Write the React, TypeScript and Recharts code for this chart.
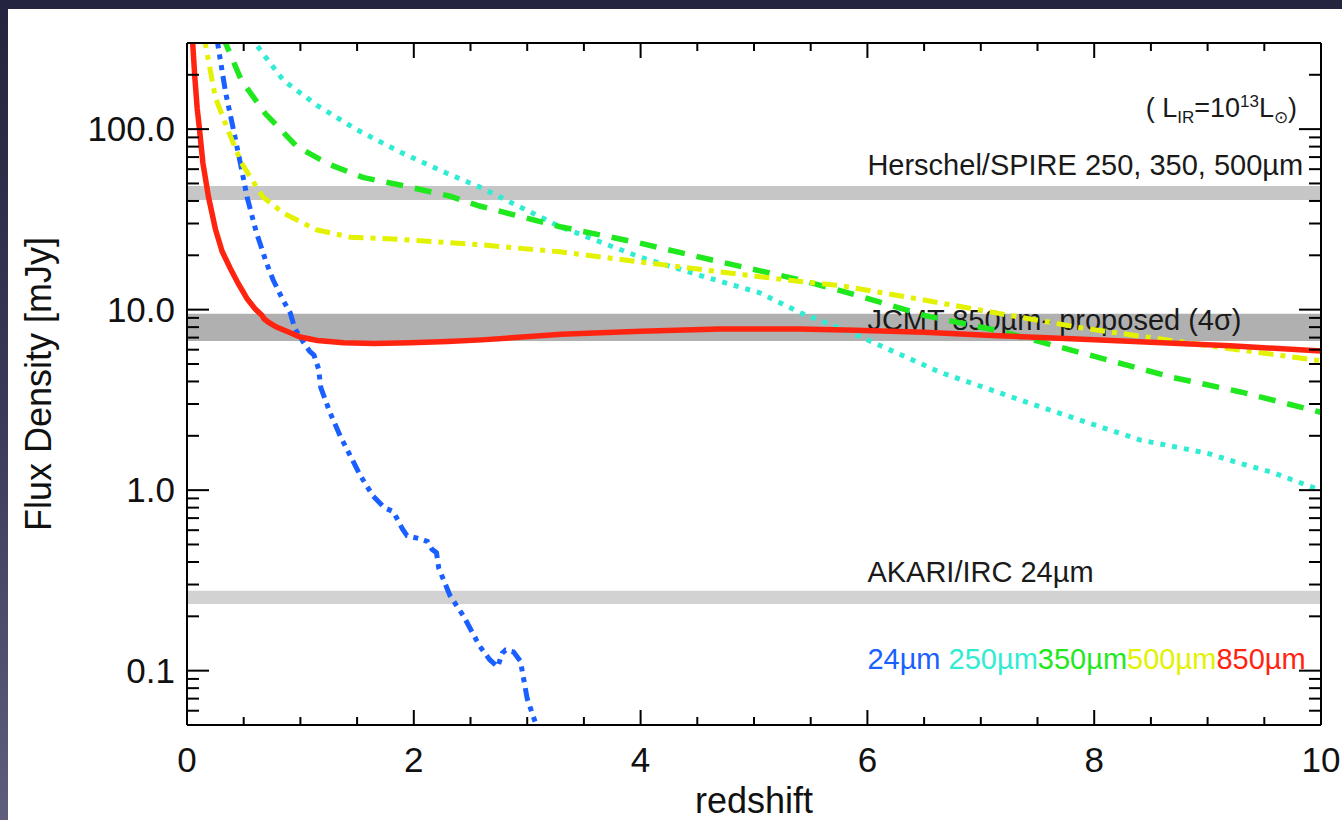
import React from "react";
import {
  ComposedChart,
  Line,
  ReferenceArea,
  ReferenceLine,
  XAxis,
  YAxis,
} from "recharts";

const FONT = '"Liberation Sans", Arial, Helvetica, sans-serif';

// redshift grid (major every 2, minor every 0.5)
const Z_TICKS = [0, 0.5, 1, 1.5, 2, 2.5, 3, 3.5, 4, 4.5, 5, 5.5, 6, 6.5, 7, 7.5, 8, 8.5, 9, 9.5, 10];
const Z_LABELED = [0, 2, 4, 6, 8, 10];

// log flux ticks, labels only on decades
const FLUX_TICKS = [
  0.06, 0.07, 0.08, 0.09, 0.1, 0.2, 0.3, 0.4, 0.5, 0.6, 0.7, 0.8, 0.9, 1, 2, 3, 4, 5, 6, 7, 8, 9,
  10, 20, 30, 40, 50, 60, 70, 80, 90, 100, 200,
];
const FLUX_DECADES = [0.1, 1, 10, 100];
const FLUX_DECADE_LABELS = ["0.1", "1.0", "10.0", "100.0"];

// detection limits (mJy)
const SPIRE_BAND = [40.5, 48.4];
const JCMT_BAND = [6.7, 9.5];
const AKARI_BAND = [0.234, 0.277];

// L_IR = 1e13 Lsun template, observed flux vs redshift
const Z_850 = [0.04, 0.05, 0.07, 0.09, 0.11, 0.14, 0.19, 0.25, 0.31, 0.38, 0.45, 0.53, 0.6, 0.66, 0.68, 0.72, 0.79, 0.9, 1.0, 1.15, 1.38, 1.65, 1.97, 2.3, 2.6, 3.3, 4.0, 4.7, 5.4, 5.9, 6.5, 7.1, 7.8, 8.5, 9.2, 10];
const F_850 = [420, 300, 190, 130, 100, 65, 42, 28, 21, 17, 14, 11.5, 10.1, 9.3, 8.9, 8.5, 8.0, 7.5, 7.05, 6.75, 6.55, 6.5, 6.55, 6.65, 6.8, 7.3, 7.6, 7.8, 7.8, 7.7, 7.5, 7.2, 6.9, 6.6, 6.3, 5.9];

const Z_500 = [0.15, 0.16, 0.25, 0.36, 0.48, 0.67, 0.85, 1.14, 1.44, 1.88, 2.26, 2.58, 3.29, 3.99, 4.7, 5.41, 5.76, 6.5, 7.17, 7.9, 8.5, 9.1, 10];
const F_500 = [340, 300, 150, 99, 65, 42, 34.3, 27.7, 25.2, 24.5, 23.6, 22.9, 20.9, 18.4, 16.2, 14.3, 13.6, 11.3, 9.5, 7.9, 7.0, 6.2, 5.2];

const Z_350 = [0.32, 0.34, 0.48, 0.69, 0.97, 1.25, 1.55, 1.88, 2.32, 2.58, 3.29, 3.99, 4.7, 5.41, 5.87, 6.5, 7.17, 7.87, 8.7, 9.29, 10];
const F_350 = [330, 300, 186, 122, 80, 64, 54, 49, 42.5, 37.5, 28.8, 23.4, 18.4, 14.6, 12.2, 9.3, 7.6, 5.8, 4.2, 3.5, 2.7];

const Z_250 = [0.58, 0.6, 0.85, 1.15, 1.5, 1.88, 2.29, 2.58, 3.29, 3.99, 4.52, 5.05, 5.41, 5.87, 6.64, 7.52, 8.4, 9.0, 9.3, 9.58, 9.9, 10];
const F_250 = [330, 300, 186, 135, 99, 74.6, 57, 47.8, 28.8, 19.6, 15.5, 12.4, 9.6, 7.4, 4.5, 2.9, 1.9, 1.6, 1.4, 1.25, 1.05, 1.0];

const Z_24 = [0.26, 0.27, 0.34, 0.41, 0.47, 0.53, 0.61, 0.7, 0.76, 0.84, 0.91, 0.95, 1.02, 1.08, 1.12, 1.16, 1.18, 1.26, 1.35, 1.44, 1.53, 1.64, 1.74, 1.82, 1.9, 1.94, 2.04, 2.12, 2.16, 2.2, 2.22, 2.32, 2.44, 2.58, 2.67, 2.74, 2.78, 2.81, 2.88, 2.94, 3.0, 3.07, 3.09];
const F_24 = [330, 300, 160, 99, 65, 42, 27, 18.2, 14.6, 11.5, 9.6, 7.9, 6.7, 5.9, 5.6, 4.7, 3.7, 2.7, 2.0, 1.55, 1.2, 0.93, 0.8, 0.76, 0.61, 0.56, 0.54, 0.52, 0.47, 0.45, 0.37, 0.26, 0.2, 0.137, 0.115, 0.105, 0.125, 0.13, 0.127, 0.113, 0.07, 0.052, 0.045];

const SERIES = [
  { name: "24µm", z: Z_24, f: F_24, color: "#1a5fff", dash: "13 6 5 6 5 6", width: 5 },
  { name: "250µm", z: Z_250, f: F_250, color: "#30ecd2", dash: "5 7", width: 5 },
  { name: "350µm", z: Z_350, f: F_350, color: "#1fe81f", dash: "17 12", width: 5.5 },
  { name: "500µm", z: Z_500, f: F_500, color: "#e2f200", dash: "15 7 5 7", width: 5 },
  { name: "850µm", z: Z_850, f: F_850, color: "#ff2410", dash: undefined, width: 5.5 },
];

const toRows = (z: number[], f: number[]) => z.map((v, i) => ({ z: v, flux: f[i] }));

const isMajorZ = (v: number) => Z_LABELED.includes(v);
const isDecade = (v: number) => FLUX_DECADES.includes(v);

function BottomTick({ x, y, payload }: any) {
  const v = payload.value;
  const major = isMajorZ(v);
  return (
    <g>
      <line x1={x} y1={y} x2={x} y2={y - (major ? 15 : 8)} stroke="#000" strokeWidth={2} />
      {major ? (
        <text x={x} y={y + 47} textAnchor="middle" fontFamily={FONT} fontSize={35} fill="#111">
          {v}
        </text>
      ) : null}
    </g>
  );
}

function TopTick({ x, y, payload }: any) {
  const major = isMajorZ(payload.value);
  return <line x1={x} y1={y} x2={x} y2={y + (major ? 15 : 8)} stroke="#000" strokeWidth={2} />;
}

function LeftTick({ x, y, payload }: any) {
  const v = payload.value;
  const major = isDecade(v);
  return (
    <g>
      <line x1={x} y1={y} x2={x + (major ? 22 : 12)} y2={y} stroke="#000" strokeWidth={2} />
      {major ? (
        <text
          x={x - 12}
          y={y + 12}
          textAnchor="end"
          fontFamily={FONT}
          fontSize={35}
          fill="#111"
        >
          {FLUX_DECADE_LABELS[FLUX_DECADES.indexOf(v)]}
        </text>
      ) : null}
    </g>
  );
}

function RightTick({ x, y, payload }: any) {
  const major = isDecade(payload.value);
  return <line x1={x} y1={y} x2={x - (major ? 22 : 12)} y2={y} stroke="#000" strokeWidth={2} />;
}

const bandText = (text: string, dy: number) => (props: any) => {
  const { x, y, width } = props.viewBox;
  return (
    <text x={x + width * 0.6} y={y + dy} fontFamily={FONT} fontSize={29} fill="#1a1a1a">
      {text}
    </text>
  );
};

export default function App() {
  return (
    <div
      style={{
        position: "fixed",
        inset: 0,
        background: "linear-gradient(180deg, #24243e 0%, #3a3a58 50%, #5f5d7d 100%)",
      }}
    >
      <div style={{ position: "absolute", left: 8, top: 9, right: 0, bottom: 0, background: "#fff" }} />
      <div style={{ position: "absolute", left: 0, top: 0 }}>
        <ComposedChart width={1342} height={820} margin={{ top: 0, right: 0, bottom: 0, left: 0 }}>
          <XAxis
            type="number"
            dataKey="z"
            domain={[0, 10]}
            ticks={Z_TICKS}
            interval={0}
            allowDataOverflow
            height={95}
            tickSize={0}
            tickMargin={0}
            tickLine={false}
            tick={<BottomTick />}
            axisLine={{ stroke: "#000", strokeWidth: 2 }}
            label={(props: any) => {
              const { x, y, width } = props.viewBox;
              return (
                <text x={x + width / 2} y={y + 88} textAnchor="middle" fontFamily={FONT} fontSize={36} fill="#111">
                  redshift
                </text>
              );
            }}
          />
          <XAxis
            xAxisId="top"
            orientation="top"
            type="number"
            dataKey="z"
            domain={[0, 10]}
            ticks={Z_TICKS}
            interval={0}
            allowDataOverflow
            height={43}
            tickSize={0}
            tickMargin={0}
            tickLine={false}
            tick={<TopTick />}
            axisLine={{ stroke: "#000", strokeWidth: 2 }}
            label={(props: any) => {
              const { x, y, width, height } = props.viewBox;
              const rx = x + width - 24;
              const by = y + height + 74;
              return (
                <text x={rx} y={by} textAnchor="end" fontFamily={FONT} fontSize={27} fill="#1a1a1a">
                  <tspan>( L</tspan>
                  <tspan fontSize={17} dy={6}>IR</tspan>
                  <tspan dy={-6}>=10</tspan>
                  <tspan fontSize={17} dy={-10}>13</tspan>
                  <tspan dy={10}>L</tspan>
                  <tspan fontSize={17} dy={6}>⊙</tspan>
                  <tspan dy={-6}>)</tspan>
                </text>
              );
            }}
          />
          <YAxis
            type="number"
            scale="log"
            domain={[0.05, 300]}
            ticks={FLUX_TICKS}
            interval={0}
            allowDataOverflow
            width={187}
            tickSize={0}
            tickMargin={0}
            tickLine={false}
            tick={<LeftTick />}
            axisLine={{ stroke: "#000", strokeWidth: 2 }}
            label={(props: any) => {
              const { x, y, height } = props.viewBox;
              const cx = x + 51;
              const cy = y + height / 2;
              return (
                <text
                  x={cx}
                  y={cy}
                  transform={`rotate(-90 ${cx} ${cy})`}
                  textAnchor="middle"
                  fontFamily={FONT}
                  fontSize={36}
                  fill="#111"
                >
                  Flux Density [mJy]
                </text>
              );
            }}
          />
          <YAxis
            yAxisId="right"
            orientation="right"
            type="number"
            scale="log"
            domain={[0.05, 300]}
            ticks={FLUX_TICKS}
            interval={0}
            allowDataOverflow
            width={21}
            tickSize={0}
            tickMargin={0}
            tickLine={false}
            tick={<RightTick />}
            axisLine={{ stroke: "#000", strokeWidth: 2 }}
          />

          <ReferenceArea
            y1={SPIRE_BAND[0]}
            y2={SPIRE_BAND[1]}
            fill="#c6c6c6"
            fillOpacity={1}
            stroke="none"
            ifOverflow="hidden"
            label={bandText("Herschel/SPIRE 250, 350, 500µm", -11)}
          />
          <ReferenceArea
            y1={JCMT_BAND[0]}
            y2={JCMT_BAND[1]}
            fill="#b0b0b0"
            fillOpacity={1}
            stroke="none"
            ifOverflow="hidden"
            label={bandText("JCMT 850µm- proposed (4σ)", 16)}
          />
          <ReferenceArea
            y1={AKARI_BAND[0]}
            y2={AKARI_BAND[1]}
            fill="#d2d2d2"
            fillOpacity={1}
            stroke="none"
            ifOverflow="hidden"
            label={bandText("AKARI/IRC 24µm", -9)}
          />
          <ReferenceLine
            y={0.1}
            stroke="none"
            label={(props: any) => {
              const { x, y, width } = props.viewBox;
              return (
                <text x={x + width * 0.6} y={y - 2} fontFamily={FONT} fontSize={29}>
                  {SERIES.map((s, i) => (
                    <tspan key={s.name} fill={s.color}>
                      {i === 0 ? `${s.name} ` : s.name}
                    </tspan>
                  ))}
                </text>
              );
            }}
          />

          {SERIES.map((s) => (
            <Line
              key={s.name}
              data={toRows(s.z, s.f)}
              dataKey="flux"
              type="linear"
              stroke={s.color}
              strokeWidth={s.width}
              strokeDasharray={s.dash}
              dot={false}
              activeDot={false}
              isAnimationActive={false}
            />
          ))}
        </ComposedChart>
      </div>
    </div>
  );
}
